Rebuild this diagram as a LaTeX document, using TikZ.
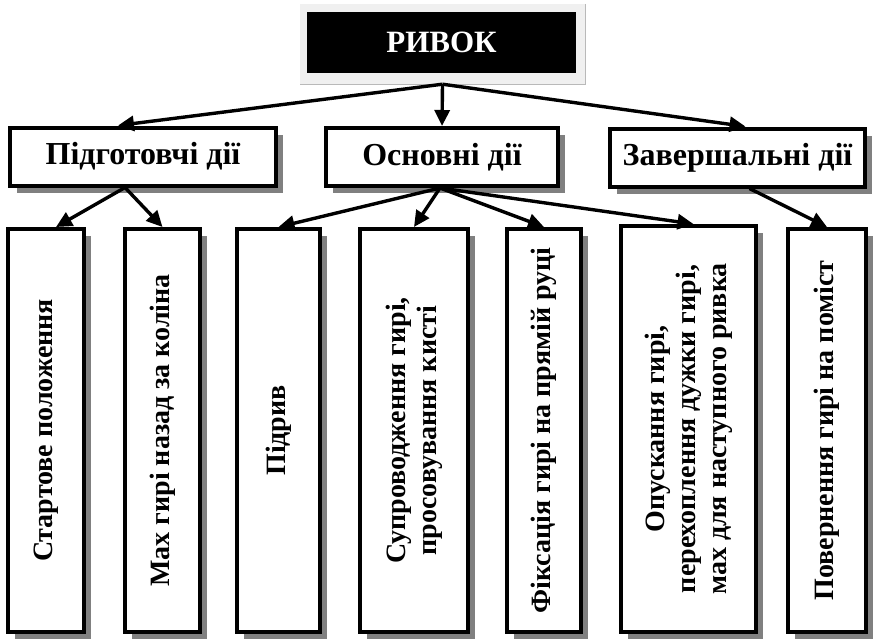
\documentclass[tikz,border=0pt]{standalone}
\usepackage{fontspec}
\setmainfont{Liberation Serif}
\usetikzlibrary{arrows.meta,shadows,calc}

\begin{document}
\begin{tikzpicture}[x=1pt,y=-1pt,
  box/.style={draw, line width=4pt, fill=white, inner sep=0pt,
    drop shadow={shadow xshift=7pt, shadow yshift=-7pt, fill=black!50, opacity=1}},
  midbox/.style={box, minimum height=58pt, font=\bfseries\fontsize{32}{35}\selectfont},
  vbox/.style={box, minimum height=403pt},
  vtext/.style={rotate=90, align=center, inner sep=0pt, font=\bfseries\fontsize{28}{31}\selectfont},
  link/.style={line width=3.4pt, -{Triangle[length=16pt,width=15pt]}}
]
\useasboundingbox (0,0) rectangle (874,642);

% title with its pale frame
\node[fill=gray!12, minimum width=285pt, minimum height=80pt, inner sep=0pt] (frame) at (442.5,44) {};
\draw[gray!55, line width=1.2pt] (frame.north east) -- (frame.south east) -- (frame.south west);
\node[fill=black, text=white, minimum width=269pt, minimum height=61pt, inner sep=0pt,
      font=\bfseries\fontsize{31}{34}\selectfont] (top) at (441.5,42.5) {РИВОК};

% second level
\node[midbox, minimum width=266pt] (m1) at (143,156.5) {Підготовчі дії};
\node[midbox, minimum width=232pt] (m2) at (442,157) {Основні дії};
\node[midbox, minimum width=255pt] (m3) at (737.5,157.5) {Завершальні дії};

% third level boxes
\node[vbox, minimum width=76pt]  (b1) at (46,430.5) {};
\node[vbox, minimum width=75pt]  (b2) at (162.5,430.5) {};
\node[vbox, minimum width=83pt]  (b3) at (278.5,430.5) {};
\node[vbox, minimum width=108pt] (b4) at (414,430.5) {};
\node[vbox, minimum width=74pt]  (b5) at (544,430.5) {};
\node[vbox, minimum width=135pt, minimum height=406pt] (b6) at (688.5,429) {};
\node[vbox, minimum width=78pt]  (b7) at (827,430.5) {};

\node[vtext] (t1) at (b1) {Стартове положення};
\node[vtext] (t2) at (b2) {Мах гирі назад за коліна};
\node[vtext] (t3) at (b3) {Підрив};
\node[vtext] (t4) at (b4) {Супроводження гирі,\\просовування кисті};
\node[vtext] (t5) at (b5) {Фіксація гирі на прямій руці};
\node[vtext] (t6) at (b6) {Опускання гирі,\\перехоплення дужки гирі,\\мах для наступного ривка};
\node[vtext] (t7) at (b7) {Повернення гирі на поміст};

% connectors
\coordinate (s0) at (frame.south);
\draw[link] (s0) -- ([xshift=-25pt]m1.north);
\draw[link] (s0) -- (m2.north);
\draw[link] (s0) -- ([xshift=8pt]m3.north);

\coordinate (s1) at ([xshift=-18pt]m1.south);
\draw[link] (s1) -- ([xshift=10pt]b1.north);
\draw[link] (s1) -- (b2.north);

\coordinate (s2) at ([xshift=-2pt]m2.south);
\draw[link] (s2) -- (b3.north);
\draw[link] (s2) -- (b4.north);
\draw[link] (s2) -- (b5.north);
\draw[link] (s2) -- ([xshift=5pt]b6.north);

\coordinate (s3) at ([xshift=12pt]m3.south);
\draw[link] (s3) -- (b7.north);
\end{tikzpicture}
\end{document}
